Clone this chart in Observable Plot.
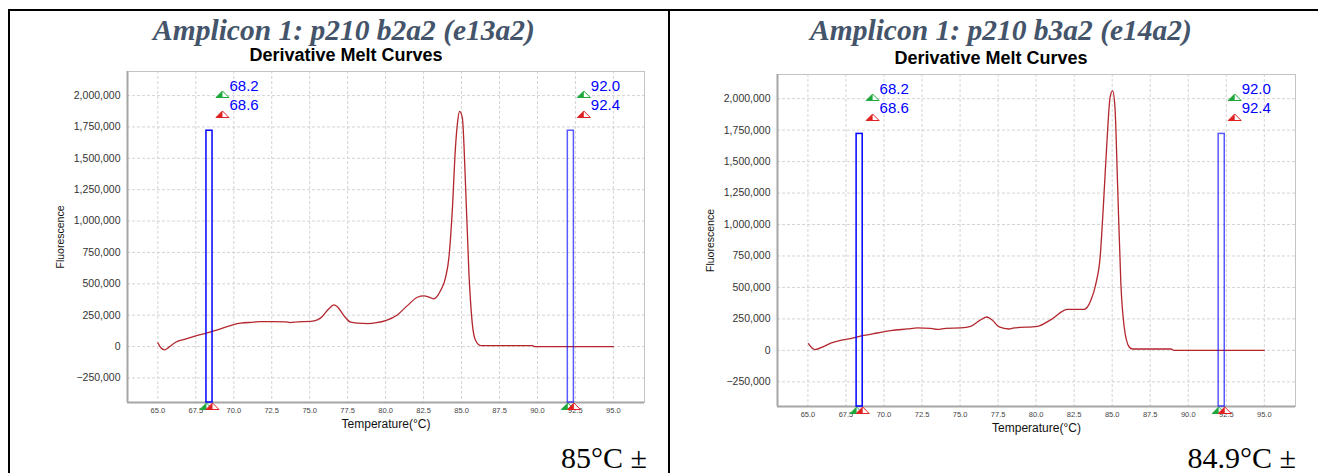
<!DOCTYPE html>
<html><head><meta charset="utf-8">
<script src="https://cdn.jsdelivr.net/npm/d3@7"></script>
<script src="https://cdn.jsdelivr.net/npm/@observablehq/plot@0.6"></script>
<style>
body{margin:0;width:1318px;height:473px;overflow:hidden;background:#fff;position:relative;}
.title{font-family:"Liberation Serif","Times New Roman",serif;font-style:italic;font-weight:bold;font-size:29.5px;color:#44546a;text-align:center;width:600px;line-height:29px;white-space:nowrap;}
.sub{font-family:"Liberation Sans",Arial,sans-serif;font-weight:bold;font-size:18px;color:#000;text-align:center;width:400px;line-height:18px;white-space:nowrap;}
.tm{font-family:"Liberation Serif","Times New Roman",serif;font-size:30px;line-height:30px;text-align:right;width:300px;white-space:nowrap;color:#000;}
.bline{position:absolute;background:#000;}
</style></head><body>
<script>
// ---------- data ----------
const titles = ["Amplicon 1: p210 b2a2 (e13a2)", "Amplicon 1: p210 b3a2 (e14a2)"];
const chartTitle = "Derivative Melt Curves";
const tmText = ["85°C ±", "84.9°C ±"];
const xLabel = "Temperature(°C)";
const yLabel = "Fluorescence";
const xTicks = [65, 67.5, 70, 72.5, 75, 77.5, 80, 82.5, 85, 87.5, 90, 92.5, 95];
const yTicks = [-250000, 0, 250000, 500000, 750000, 1000000, 1250000, 1500000, 1750000, 2000000];
const cursorA = [68.2, 68.6];
const cursorB = [92.0, 92.4];
const cursorHeight = 1720000;

const temp1 = [65.0, 65.2, 65.44, 65.73, 66.17, 66.7, 67.5, 68.25, 69.13, 70.0, 70.45, 71.3, 71.76, 72.5, 73.4, 73.7, 74.2, 75.06, 75.5, 75.83, 76.1, 76.35, 76.6, 76.82, 77.25, 77.7, 78.2, 78.8, 79.4, 80.0, 80.77, 81.43, 82.09, 82.52, 82.9, 83.18, 83.45, 83.62, 83.95, 84.17, 84.39, 84.6, 84.75, 84.87, 85.05, 85.27, 85.48, 85.71, 85.93, 86.26, 87.58, 89.7, 89.77, 95.0];
const fluor1 = [30000, -10000, -26000, -5000, 34000, 56000, 85000, 109000, 141000, 175000, 186000, 194000, 199000, 199000, 197000, 191000, 197000, 200000, 212000, 239000, 280000, 312000, 332000, 318000, 247000, 194000, 186000, 183000, 190000, 207000, 252000, 326000, 393000, 404000, 392000, 380000, 410000, 446000, 552000, 711000, 1083000, 1587000, 1800000, 1874000, 1826000, 1268000, 605000, 181000, 48000, 8000, 8000, 8000, 0, 0];

const temp2 = [65.03, 65.46, 66.05, 66.5, 67.15, 67.8, 68.68, 69.57, 70.44, 71.54, 72.2, 73.07, 73.5, 74.06, 75.05, 75.7, 76.25, 76.76, 77.13, 77.57, 78.22, 78.55, 80.09, 80.97, 82.07, 83.16, 83.6, 83.93, 84.21, 84.43, 84.65, 84.87, 85.03, 85.18, 85.36, 85.57, 85.79, 86.12, 86.34, 88.86, 89.08, 95.0];
const fluor2 = [53000, 6000, 32000, 58000, 80000, 93000, 119000, 138000, 157000, 170000, 178000, 175000, 167000, 175000, 178000, 191000, 234000, 265000, 239000, 186000, 170000, 178000, 191000, 244000, 326000, 326000, 398000, 531000, 743000, 1168000, 1646000, 2017000, 2062000, 1937000, 1300000, 531000, 186000, 27000, 11000, 11000, 0, 0];

// ---------- drawing ----------
const xDom = [63, 97.05], yDom = [-446000, 2192000];
const GREEN = "#1ea83c", RED = "#e02020", BLUE = "#0000ff";
const triFull = {draw(ctx, size){const r = Math.sqrt(size/Math.PI); ctx.moveTo(-r,0); ctx.lineTo(r,0); ctx.lineTo(0,-r); ctx.closePath();}};
const triHalf = {draw(ctx, size){const r = Math.sqrt(size/Math.PI); ctx.moveTo(-r,0); ctx.lineTo(0,0); ctx.lineTo(0,-r); ctx.closePath();}};
const fmt1 = d3.format(".1f");

function marker(xs, color, opts) {
  return [
    Plot.dot(xs, {x: d => d, symbol: triFull, r: 6.5, fill: "white", stroke: color, strokeWidth: 1, ...opts}),
    Plot.dot(xs, {x: d => d, symbol: triHalf, r: 6.5, fill: color, stroke: "none", ...opts})
  ];
}

function panel(temp, fluor, g) {
  const data = temp.map((t, i) => ({t, f: fluor[i]}));
  const rects = [{x1: cursorA[0], x2: cursorA[1], o: 1}, {x1: cursorB[0], x2: cursorB[1], o: 0.65}];
  const starts = [cursorA[0], cursorB[0]];
  const ends = [cursorA[1], cursorB[1]];
  return Plot.plot({
    width: g.width, height: g.height,
    marginLeft: g.ml, marginRight: g.mr, marginTop: g.mt, marginBottom: g.mb,
    style: {fontFamily: "'Liberation Sans', Arial, sans-serif", background: "transparent", overflow: "visible"},
    x: {domain: xDom},
    y: {domain: yDom},
    marks: [
      Plot.gridX(xTicks, {stroke: "#d4d4d4", strokeOpacity: 1, strokeDasharray: "3,2"}),
      Plot.gridY(yTicks, {stroke: "#d4d4d4", strokeOpacity: 1, strokeDasharray: "3,2"}),
      Plot.frame({stroke: "#c4c4c4"}),
      Plot.ruleX([xDom[0]], {stroke: "#a6a6a6", strokeWidth: 2}),
      Plot.ruleY([yDom[0]], {stroke: "#a6a6a6", strokeWidth: 2}),
      Plot.axisX(xTicks, {tickSize: 0, tickPadding: 5, tickFormat: fmt1, fontSize: 7.5, fill: "#444", label: null}),
      Plot.axisY(yTicks, {tickSize: 0, tickPadding: 7, tickFormat: d3.format(","), fontSize: 10.5, fill: "#333", label: null}),
      Plot.text([xLabel], {frameAnchor: "bottom", dy: 25, fontSize: 12, fill: "#111"}),
      Plot.text([yLabel], {frameAnchor: "left", dx: -67, rotate: -90, textAnchor: "middle", lineAnchor: "middle", fontSize: 10.5, fill: "#111"}),
      Plot.line(data, {x: "t", y: "f", stroke: "#b3262d", strokeWidth: 1.3, curve: "monotone-x"}),
      Plot.rect(rects, {x1: "x1", x2: "x2", y1: yDom[0], y2: cursorHeight, stroke: BLUE, strokeOpacity: "o", fill: "none", strokeWidth: 1.5}),
      // bottom cursor markers
      ...marker(starts, GREEN, {frameAnchor: "bottom", dy: 7}),
      ...marker(ends, RED, {frameAnchor: "bottom", dy: 7}),
      // top cursor markers
      ...marker(starts, GREEN, {frameAnchor: "top", dx: 16, dy: 26}),
      ...marker(starts, RED, {frameAnchor: "top", dx: 16, dy: 46}),
      Plot.text(starts, {x: d => d, text: d => fmt1(d), frameAnchor: "top", dx: 23, dy: 15, textAnchor: "start", lineAnchor: "middle", fill: BLUE, fontSize: 15}),
      Plot.text(starts, {x: d => d, text: (d, i) => fmt1(ends[i]), frameAnchor: "top", dx: 23, dy: 34, textAnchor: "start", lineAnchor: "middle", fill: BLUE, fontSize: 15})
    ]
  });
}

function place(el, left, top) {
  el.style.position = "absolute"; el.style.left = left + "px"; el.style.top = top + "px";
  document.body.appendChild(el);
  return el;
}
function div(cls, text, left, top) {
  const d = document.createElement("div");
  d.className = cls; d.textContent = text;
  return place(d, left, top);
}
function bline(l, t, w, h) { const d = document.createElement("div"); d.className = "bline"; d.style.left = l + "px"; d.style.top = t + "px"; d.style.width = w + "px"; d.style.height = h + "px"; document.body.appendChild(d); }

place(panel(temp1, fluor1, {width: 668, height: 440, ml: 127, mr: 24, mt: 71, mb: 38}), 0, 0);
place(panel(temp2, fluor2, {width: 648, height: 440, ml: 107, mr: 23, mt: 74, mb: 34}), 670, 0);

div("title", titles[0], 344 - 300, 16);
div("title", titles[1], 1001 - 300, 16);
div("sub", chartTitle, 346 - 200, 46);
div("sub", chartTitle, 991 - 200, 49);
div("tm", tmText[0], 647 - 300, 443);
div("tm", tmText[1], 1296 - 300, 443);

bline(8, 9, 1310, 2);
bline(8, 9, 2, 464);
bline(668, 9, 2, 464);
</script></body></html>
